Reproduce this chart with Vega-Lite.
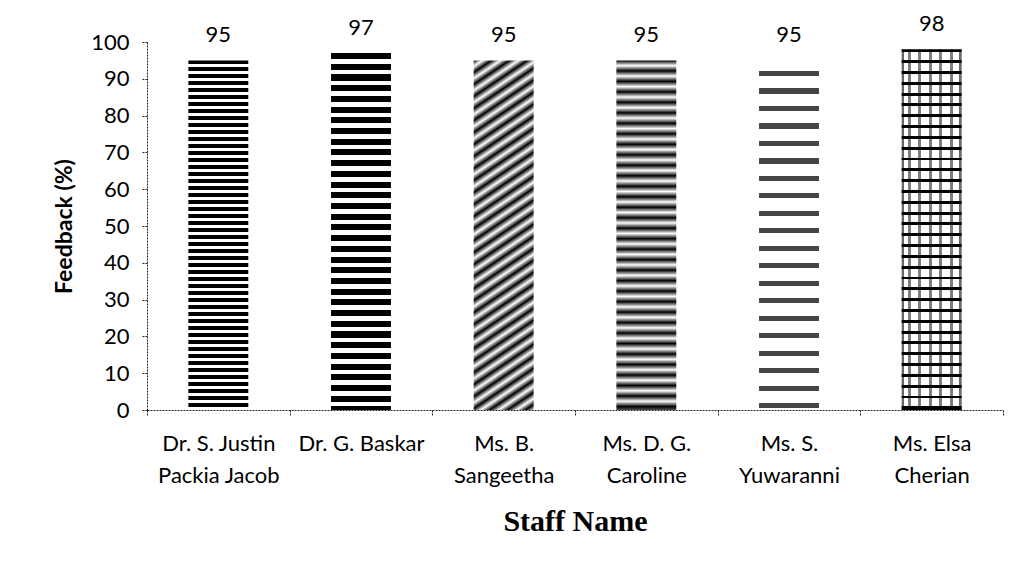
{
"$schema":"https://vega.github.io/schema/vega-lite/v6.json",
"width":856,"height":368,
"autosize":{"type":"none"},
"padding":{"left":147,"top":42,"right":21,"bottom":164},
"config":{"view":{"stroke":null},"font":"Lato"},
"data":{"values":[
{"staff":"Dr. S. Justin\nPackia Jacob","feedback":95},
{"staff":"Dr. G. Baskar","feedback":97},
{"staff":"Ms. B.\nSangeetha","feedback":95},
{"staff":"Ms. D. G.\nCaroline","feedback":95},
{"staff":"Ms. S.\nYuwaranni","feedback":95},
{"staff":"Ms. Elsa\nCherian","feedback":98}
]},
"encoding":{
"x":{"field":"staff","type":"nominal","sort":null,
"scale":{"domain":["Dr. S. Justin\nPackia Jacob","Dr. G. Baskar","Ms. B.\nSangeetha","Ms. D. G.\nCaroline","Ms. S.\nYuwaranni","Ms. Elsa\nCherian"],"paddingInner":0,"paddingOuter":0},
"axis":{"title":"Staff Name","titleFont":"Liberation Serif","titleFontSize":30,"titleFontWeight":"bold","titleColor":"#000","titlePadding":20,
"labelAngle":0,"labelFont":"Lato","labelFontSize":22,"labelColor":"#000","labelExpr":"split(datum.label,'\\n')","labelLineHeight":32,"labelPadding":17,"labelLimit":300,
"tickBand":"extent","domainDash":[2,1],"domainColor":"#222","tickColor":"#222","tickDash":[2,1],"tickSize":6}},
"y":{"field":"feedback","type":"quantitative","scale":{"domain":[0,100]},
"axis":{"title":"Feedback (%)","titleFont":"Lato","titleFontSize":23,"titleFontWeight":"bold","titleColor":"#000","titlePadding":14,
"values":[0,10,20,30,40,50,60,70,80,90,100],"labelFont":"Lato","labelFontSize":22,"labelColor":"#000","labelPadding":12,"grid":false,
"domainDash":[2,1],"domainColor":"#222","tickColor":"#222","tickDash":[2,1],"tickSize":6}}
},
"layer":[
{"transform":[{"filter":{"field":"staff","equal":"Dr. S. Justin\nPackia Jacob"}}],
"mark":{"type":"bar","width":{"band":0.42},"fill":{"gradient":"linear","x1":0,"y1":0,"x2":0,"y2":1,"stops":[
{"offset":0,"color":"#000"},{"offset":0.01,"color":"#000"},{"offset":0.01,"color":"#fff"},{"offset":0.02,"color":"#fff"},
{"offset":0.02,"color":"#000"},{"offset":0.03,"color":"#000"},{"offset":0.03,"color":"#fff"},{"offset":0.04,"color":"#fff"},
{"offset":0.04,"color":"#000"},{"offset":0.05,"color":"#000"},{"offset":0.05,"color":"#fff"},{"offset":0.06,"color":"#fff"},
{"offset":0.06,"color":"#000"},{"offset":0.07,"color":"#000"},{"offset":0.07,"color":"#fff"},{"offset":0.08,"color":"#fff"},
{"offset":0.08,"color":"#000"},{"offset":0.09,"color":"#000"},{"offset":0.09,"color":"#fff"},{"offset":0.1,"color":"#fff"},
{"offset":0.1,"color":"#000"},{"offset":0.11,"color":"#000"},{"offset":0.11,"color":"#fff"},{"offset":0.12,"color":"#fff"},
{"offset":0.12,"color":"#000"},{"offset":0.13,"color":"#000"},{"offset":0.13,"color":"#fff"},{"offset":0.14,"color":"#fff"},
{"offset":0.14,"color":"#000"},{"offset":0.15,"color":"#000"},{"offset":0.15,"color":"#fff"},{"offset":0.16,"color":"#fff"},
{"offset":0.16,"color":"#000"},{"offset":0.17,"color":"#000"},{"offset":0.17,"color":"#fff"},{"offset":0.18,"color":"#fff"},
{"offset":0.18,"color":"#000"},{"offset":0.19,"color":"#000"},{"offset":0.19,"color":"#fff"},{"offset":0.2,"color":"#fff"},
{"offset":0.2,"color":"#000"},{"offset":0.21,"color":"#000"},{"offset":0.21,"color":"#fff"},{"offset":0.22,"color":"#fff"},
{"offset":0.22,"color":"#000"},{"offset":0.23,"color":"#000"},{"offset":0.23,"color":"#fff"},{"offset":0.24,"color":"#fff"},
{"offset":0.24,"color":"#000"},{"offset":0.25,"color":"#000"},{"offset":0.25,"color":"#fff"},{"offset":0.26,"color":"#fff"},
{"offset":0.26,"color":"#000"},{"offset":0.27,"color":"#000"},{"offset":0.27,"color":"#fff"},{"offset":0.28,"color":"#fff"},
{"offset":0.28,"color":"#000"},{"offset":0.29,"color":"#000"},{"offset":0.29,"color":"#fff"},{"offset":0.3,"color":"#fff"},
{"offset":0.3,"color":"#000"},{"offset":0.31,"color":"#000"},{"offset":0.31,"color":"#fff"},{"offset":0.32,"color":"#fff"},
{"offset":0.32,"color":"#000"},{"offset":0.33,"color":"#000"},{"offset":0.33,"color":"#fff"},{"offset":0.34,"color":"#fff"},
{"offset":0.34,"color":"#000"},{"offset":0.35,"color":"#000"},{"offset":0.35,"color":"#fff"},{"offset":0.36,"color":"#fff"},
{"offset":0.36,"color":"#000"},{"offset":0.37,"color":"#000"},{"offset":0.37,"color":"#fff"},{"offset":0.38,"color":"#fff"},
{"offset":0.38,"color":"#000"},{"offset":0.39,"color":"#000"},{"offset":0.39,"color":"#fff"},{"offset":0.4,"color":"#fff"},
{"offset":0.4,"color":"#000"},{"offset":0.41,"color":"#000"},{"offset":0.41,"color":"#fff"},{"offset":0.42,"color":"#fff"},
{"offset":0.42,"color":"#000"},{"offset":0.43,"color":"#000"},{"offset":0.43,"color":"#fff"},{"offset":0.44,"color":"#fff"},
{"offset":0.44,"color":"#000"},{"offset":0.45,"color":"#000"},{"offset":0.45,"color":"#fff"},{"offset":0.46,"color":"#fff"},
{"offset":0.46,"color":"#000"},{"offset":0.47,"color":"#000"},{"offset":0.47,"color":"#fff"},{"offset":0.48,"color":"#fff"},
{"offset":0.48,"color":"#000"},{"offset":0.49,"color":"#000"},{"offset":0.49,"color":"#fff"},{"offset":0.5,"color":"#fff"},
{"offset":0.5,"color":"#000"},{"offset":0.51,"color":"#000"},{"offset":0.51,"color":"#fff"},{"offset":0.52,"color":"#fff"},
{"offset":0.52,"color":"#000"},{"offset":0.53,"color":"#000"},{"offset":0.53,"color":"#fff"},{"offset":0.54,"color":"#fff"},
{"offset":0.54,"color":"#000"},{"offset":0.55,"color":"#000"},{"offset":0.55,"color":"#fff"},{"offset":0.56,"color":"#fff"},
{"offset":0.56,"color":"#000"},{"offset":0.57,"color":"#000"},{"offset":0.57,"color":"#fff"},{"offset":0.58,"color":"#fff"},
{"offset":0.58,"color":"#000"},{"offset":0.59,"color":"#000"},{"offset":0.59,"color":"#fff"},{"offset":0.6,"color":"#fff"},
{"offset":0.6,"color":"#000"},{"offset":0.61,"color":"#000"},{"offset":0.61,"color":"#fff"},{"offset":0.62,"color":"#fff"},
{"offset":0.62,"color":"#000"},{"offset":0.63,"color":"#000"},{"offset":0.63,"color":"#fff"},{"offset":0.64,"color":"#fff"},
{"offset":0.64,"color":"#000"},{"offset":0.65,"color":"#000"},{"offset":0.65,"color":"#fff"},{"offset":0.66,"color":"#fff"},
{"offset":0.66,"color":"#000"},{"offset":0.67,"color":"#000"},{"offset":0.67,"color":"#fff"},{"offset":0.68,"color":"#fff"},
{"offset":0.68,"color":"#000"},{"offset":0.69,"color":"#000"},{"offset":0.69,"color":"#fff"},{"offset":0.7,"color":"#fff"},
{"offset":0.7,"color":"#000"},{"offset":0.71,"color":"#000"},{"offset":0.71,"color":"#fff"},{"offset":0.72,"color":"#fff"},
{"offset":0.72,"color":"#000"},{"offset":0.73,"color":"#000"},{"offset":0.73,"color":"#fff"},{"offset":0.74,"color":"#fff"},
{"offset":0.74,"color":"#000"},{"offset":0.75,"color":"#000"},{"offset":0.75,"color":"#fff"},{"offset":0.76,"color":"#fff"},
{"offset":0.76,"color":"#000"},{"offset":0.77,"color":"#000"},{"offset":0.77,"color":"#fff"},{"offset":0.78,"color":"#fff"},
{"offset":0.78,"color":"#000"},{"offset":0.79,"color":"#000"},{"offset":0.79,"color":"#fff"},{"offset":0.8,"color":"#fff"},
{"offset":0.8,"color":"#000"},{"offset":0.81,"color":"#000"},{"offset":0.81,"color":"#fff"},{"offset":0.82,"color":"#fff"},
{"offset":0.82,"color":"#000"},{"offset":0.83,"color":"#000"},{"offset":0.83,"color":"#fff"},{"offset":0.84,"color":"#fff"},
{"offset":0.84,"color":"#000"},{"offset":0.85,"color":"#000"},{"offset":0.85,"color":"#fff"},{"offset":0.86,"color":"#fff"},
{"offset":0.86,"color":"#000"},{"offset":0.87,"color":"#000"},{"offset":0.87,"color":"#fff"},{"offset":0.88,"color":"#fff"},
{"offset":0.88,"color":"#000"},{"offset":0.89,"color":"#000"},{"offset":0.89,"color":"#fff"},{"offset":0.9,"color":"#fff"},
{"offset":0.9,"color":"#000"},{"offset":0.91,"color":"#000"},{"offset":0.91,"color":"#fff"},{"offset":0.92,"color":"#fff"},
{"offset":0.92,"color":"#000"},{"offset":0.93,"color":"#000"},{"offset":0.93,"color":"#fff"},{"offset":0.94,"color":"#fff"},
{"offset":0.94,"color":"#000"},{"offset":0.95,"color":"#000"},{"offset":0.95,"color":"#fff"},{"offset":0.96,"color":"#fff"},
{"offset":0.96,"color":"#000"},{"offset":0.97,"color":"#000"},{"offset":0.97,"color":"#fff"},{"offset":0.98,"color":"#fff"},
{"offset":0.98,"color":"#000"},{"offset":0.99,"color":"#000"},{"offset":0.99,"color":"#fff"},{"offset":1,"color":"#fff"}
]}}},
{"transform":[{"filter":{"field":"staff","equal":"Dr. G. Baskar"}}],
"mark":{"type":"bar","width":{"band":0.42},"fill":{"gradient":"linear","x1":0,"y1":0,"x2":0,"y2":1,"stops":[
{"offset":0,"color":"#000"},{"offset":0.017,"color":"#000"},{"offset":0.017,"color":"#fff"},{"offset":0.03,"color":"#fff"},
{"offset":0.03,"color":"#000"},{"offset":0.047,"color":"#000"},{"offset":0.047,"color":"#fff"},{"offset":0.06,"color":"#fff"},
{"offset":0.06,"color":"#000"},{"offset":0.077,"color":"#000"},{"offset":0.077,"color":"#fff"},{"offset":0.09,"color":"#fff"},
{"offset":0.09,"color":"#000"},{"offset":0.107,"color":"#000"},{"offset":0.107,"color":"#fff"},{"offset":0.12,"color":"#fff"},
{"offset":0.12,"color":"#000"},{"offset":0.137,"color":"#000"},{"offset":0.137,"color":"#fff"},{"offset":0.15,"color":"#fff"},
{"offset":0.15,"color":"#000"},{"offset":0.167,"color":"#000"},{"offset":0.167,"color":"#fff"},{"offset":0.18,"color":"#fff"},
{"offset":0.18,"color":"#000"},{"offset":0.197,"color":"#000"},{"offset":0.197,"color":"#fff"},{"offset":0.21,"color":"#fff"},
{"offset":0.21,"color":"#000"},{"offset":0.227,"color":"#000"},{"offset":0.227,"color":"#fff"},{"offset":0.24,"color":"#fff"},
{"offset":0.24,"color":"#000"},{"offset":0.257,"color":"#000"},{"offset":0.257,"color":"#fff"},{"offset":0.27,"color":"#fff"},
{"offset":0.27,"color":"#000"},{"offset":0.287,"color":"#000"},{"offset":0.287,"color":"#fff"},{"offset":0.3,"color":"#fff"},
{"offset":0.3,"color":"#000"},{"offset":0.317,"color":"#000"},{"offset":0.317,"color":"#fff"},{"offset":0.33,"color":"#fff"},
{"offset":0.33,"color":"#000"},{"offset":0.347,"color":"#000"},{"offset":0.347,"color":"#fff"},{"offset":0.36,"color":"#fff"},
{"offset":0.36,"color":"#000"},{"offset":0.377,"color":"#000"},{"offset":0.377,"color":"#fff"},{"offset":0.39,"color":"#fff"},
{"offset":0.39,"color":"#000"},{"offset":0.407,"color":"#000"},{"offset":0.407,"color":"#fff"},{"offset":0.42,"color":"#fff"},
{"offset":0.42,"color":"#000"},{"offset":0.437,"color":"#000"},{"offset":0.437,"color":"#fff"},{"offset":0.45,"color":"#fff"},
{"offset":0.45,"color":"#000"},{"offset":0.467,"color":"#000"},{"offset":0.467,"color":"#fff"},{"offset":0.48,"color":"#fff"},
{"offset":0.48,"color":"#000"},{"offset":0.497,"color":"#000"},{"offset":0.497,"color":"#fff"},{"offset":0.51,"color":"#fff"},
{"offset":0.51,"color":"#000"},{"offset":0.527,"color":"#000"},{"offset":0.527,"color":"#fff"},{"offset":0.54,"color":"#fff"},
{"offset":0.54,"color":"#000"},{"offset":0.557,"color":"#000"},{"offset":0.557,"color":"#fff"},{"offset":0.57,"color":"#fff"},
{"offset":0.57,"color":"#000"},{"offset":0.587,"color":"#000"},{"offset":0.587,"color":"#fff"},{"offset":0.6,"color":"#fff"},
{"offset":0.6,"color":"#000"},{"offset":0.617,"color":"#000"},{"offset":0.617,"color":"#fff"},{"offset":0.63,"color":"#fff"},
{"offset":0.63,"color":"#000"},{"offset":0.647,"color":"#000"},{"offset":0.647,"color":"#fff"},{"offset":0.66,"color":"#fff"},
{"offset":0.66,"color":"#000"},{"offset":0.677,"color":"#000"},{"offset":0.677,"color":"#fff"},{"offset":0.69,"color":"#fff"},
{"offset":0.69,"color":"#000"},{"offset":0.707,"color":"#000"},{"offset":0.707,"color":"#fff"},{"offset":0.72,"color":"#fff"},
{"offset":0.72,"color":"#000"},{"offset":0.737,"color":"#000"},{"offset":0.737,"color":"#fff"},{"offset":0.75,"color":"#fff"},
{"offset":0.75,"color":"#000"},{"offset":0.767,"color":"#000"},{"offset":0.767,"color":"#fff"},{"offset":0.78,"color":"#fff"},
{"offset":0.78,"color":"#000"},{"offset":0.797,"color":"#000"},{"offset":0.797,"color":"#fff"},{"offset":0.81,"color":"#fff"},
{"offset":0.81,"color":"#000"},{"offset":0.827,"color":"#000"},{"offset":0.827,"color":"#fff"},{"offset":0.84,"color":"#fff"},
{"offset":0.84,"color":"#000"},{"offset":0.857,"color":"#000"},{"offset":0.857,"color":"#fff"},{"offset":0.87,"color":"#fff"},
{"offset":0.87,"color":"#000"},{"offset":0.887,"color":"#000"},{"offset":0.887,"color":"#fff"},{"offset":0.9,"color":"#fff"},
{"offset":0.9,"color":"#000"},{"offset":0.917,"color":"#000"},{"offset":0.917,"color":"#fff"},{"offset":0.93,"color":"#fff"},
{"offset":0.93,"color":"#000"},{"offset":0.947,"color":"#000"},{"offset":0.947,"color":"#fff"},{"offset":0.96,"color":"#fff"},
{"offset":0.96,"color":"#000"},{"offset":0.977,"color":"#000"},{"offset":0.977,"color":"#fff"},{"offset":0.99,"color":"#fff"},
{"offset":0.99,"color":"#000"},{"offset":1,"color":"#000"}
]}}},
{"transform":[{"filter":{"field":"staff","equal":"Ms. B.\nSangeetha"}}],
"mark":{"type":"bar","width":{"band":0.42},"fill":{"gradient":"linear","x1":0,"y1":0,"x2":0.13,"y2":1.13,"stops":[
{"offset":0,"color":"#000"},{"offset":0.015,"color":"#fff"},{"offset":0.03,"color":"#000"},{"offset":0.045,"color":"#fff"},
{"offset":0.06,"color":"#000"},{"offset":0.075,"color":"#fff"},{"offset":0.09,"color":"#000"},{"offset":0.105,"color":"#fff"},
{"offset":0.12,"color":"#000"},{"offset":0.135,"color":"#fff"},{"offset":0.15,"color":"#000"},{"offset":0.165,"color":"#fff"},
{"offset":0.18,"color":"#000"},{"offset":0.195,"color":"#fff"},{"offset":0.21,"color":"#000"},{"offset":0.225,"color":"#fff"},
{"offset":0.24,"color":"#000"},{"offset":0.255,"color":"#fff"},{"offset":0.27,"color":"#000"},{"offset":0.285,"color":"#fff"},
{"offset":0.3,"color":"#000"},{"offset":0.315,"color":"#fff"},{"offset":0.33,"color":"#000"},{"offset":0.345,"color":"#fff"},
{"offset":0.36,"color":"#000"},{"offset":0.375,"color":"#fff"},{"offset":0.39,"color":"#000"},{"offset":0.405,"color":"#fff"},
{"offset":0.42,"color":"#000"},{"offset":0.435,"color":"#fff"},{"offset":0.45,"color":"#000"},{"offset":0.465,"color":"#fff"},
{"offset":0.48,"color":"#000"},{"offset":0.495,"color":"#fff"},{"offset":0.51,"color":"#000"},{"offset":0.525,"color":"#fff"},
{"offset":0.54,"color":"#000"},{"offset":0.555,"color":"#fff"},{"offset":0.57,"color":"#000"},{"offset":0.585,"color":"#fff"},
{"offset":0.6,"color":"#000"},{"offset":0.615,"color":"#fff"},{"offset":0.63,"color":"#000"},{"offset":0.645,"color":"#fff"},
{"offset":0.66,"color":"#000"},{"offset":0.675,"color":"#fff"},{"offset":0.69,"color":"#000"},{"offset":0.705,"color":"#fff"},
{"offset":0.72,"color":"#000"},{"offset":0.735,"color":"#fff"},{"offset":0.75,"color":"#000"},{"offset":0.765,"color":"#fff"},
{"offset":0.78,"color":"#000"},{"offset":0.795,"color":"#fff"},{"offset":0.81,"color":"#000"},{"offset":0.825,"color":"#fff"},
{"offset":0.84,"color":"#000"},{"offset":0.855,"color":"#fff"},{"offset":0.87,"color":"#000"},{"offset":0.885,"color":"#fff"},
{"offset":0.9,"color":"#000"},{"offset":0.915,"color":"#fff"},{"offset":0.93,"color":"#000"},{"offset":0.945,"color":"#fff"},
{"offset":0.96,"color":"#000"},{"offset":0.975,"color":"#fff"},{"offset":0.99,"color":"#000"},{"offset":1,"color":"#fff"}
]}}},
{"transform":[{"filter":{"field":"staff","equal":"Ms. D. G.\nCaroline"}}],
"mark":{"type":"bar","width":{"band":0.42},"fill":{"gradient":"linear","x1":0,"y1":0,"x2":0,"y2":1,"stops":[
{"offset":0,"color":"#000"},{"offset":0.015,"color":"#fff"},{"offset":0.03,"color":"#000"},{"offset":0.045,"color":"#fff"},
{"offset":0.06,"color":"#000"},{"offset":0.075,"color":"#fff"},{"offset":0.09,"color":"#000"},{"offset":0.105,"color":"#fff"},
{"offset":0.12,"color":"#000"},{"offset":0.135,"color":"#fff"},{"offset":0.15,"color":"#000"},{"offset":0.165,"color":"#fff"},
{"offset":0.18,"color":"#000"},{"offset":0.195,"color":"#fff"},{"offset":0.21,"color":"#000"},{"offset":0.225,"color":"#fff"},
{"offset":0.24,"color":"#000"},{"offset":0.255,"color":"#fff"},{"offset":0.27,"color":"#000"},{"offset":0.285,"color":"#fff"},
{"offset":0.3,"color":"#000"},{"offset":0.315,"color":"#fff"},{"offset":0.33,"color":"#000"},{"offset":0.345,"color":"#fff"},
{"offset":0.36,"color":"#000"},{"offset":0.375,"color":"#fff"},{"offset":0.39,"color":"#000"},{"offset":0.405,"color":"#fff"},
{"offset":0.42,"color":"#000"},{"offset":0.435,"color":"#fff"},{"offset":0.45,"color":"#000"},{"offset":0.465,"color":"#fff"},
{"offset":0.48,"color":"#000"},{"offset":0.495,"color":"#fff"},{"offset":0.51,"color":"#000"},{"offset":0.525,"color":"#fff"},
{"offset":0.54,"color":"#000"},{"offset":0.555,"color":"#fff"},{"offset":0.57,"color":"#000"},{"offset":0.585,"color":"#fff"},
{"offset":0.6,"color":"#000"},{"offset":0.615,"color":"#fff"},{"offset":0.63,"color":"#000"},{"offset":0.645,"color":"#fff"},
{"offset":0.66,"color":"#000"},{"offset":0.675,"color":"#fff"},{"offset":0.69,"color":"#000"},{"offset":0.705,"color":"#fff"},
{"offset":0.72,"color":"#000"},{"offset":0.735,"color":"#fff"},{"offset":0.75,"color":"#000"},{"offset":0.765,"color":"#fff"},
{"offset":0.78,"color":"#000"},{"offset":0.795,"color":"#fff"},{"offset":0.81,"color":"#000"},{"offset":0.825,"color":"#fff"},
{"offset":0.84,"color":"#000"},{"offset":0.855,"color":"#fff"},{"offset":0.87,"color":"#000"},{"offset":0.885,"color":"#fff"},
{"offset":0.9,"color":"#000"},{"offset":0.915,"color":"#fff"},{"offset":0.93,"color":"#000"},{"offset":0.945,"color":"#fff"},
{"offset":0.96,"color":"#000"},{"offset":0.975,"color":"#fff"},{"offset":0.99,"color":"#000"},{"offset":1,"color":"#555"}
]}}},
{"transform":[{"filter":{"field":"staff","equal":"Ms. S.\nYuwaranni"}}],
"mark":{"type":"bar","width":{"band":0.42},"fill":{"gradient":"linear","x1":0,"y1":0,"x2":0,"y2":1,"stops":[
{"offset":0,"color":"#fff"},{"offset":0.03,"color":"#fff"},
{"offset":0.03,"color":"#444"},{"offset":0.045,"color":"#444"},{"offset":0.045,"color":"#fff"},{"offset":0.08,"color":"#fff"},
{"offset":0.08,"color":"#444"},{"offset":0.095,"color":"#444"},{"offset":0.095,"color":"#fff"},{"offset":0.13,"color":"#fff"},
{"offset":0.13,"color":"#444"},{"offset":0.145,"color":"#444"},{"offset":0.145,"color":"#fff"},{"offset":0.18,"color":"#fff"},
{"offset":0.18,"color":"#444"},{"offset":0.195,"color":"#444"},{"offset":0.195,"color":"#fff"},{"offset":0.23,"color":"#fff"},
{"offset":0.23,"color":"#444"},{"offset":0.245,"color":"#444"},{"offset":0.245,"color":"#fff"},{"offset":0.28,"color":"#fff"},
{"offset":0.28,"color":"#444"},{"offset":0.295,"color":"#444"},{"offset":0.295,"color":"#fff"},{"offset":0.33,"color":"#fff"},
{"offset":0.33,"color":"#444"},{"offset":0.345,"color":"#444"},{"offset":0.345,"color":"#fff"},{"offset":0.38,"color":"#fff"},
{"offset":0.38,"color":"#444"},{"offset":0.395,"color":"#444"},{"offset":0.395,"color":"#fff"},{"offset":0.43,"color":"#fff"},
{"offset":0.43,"color":"#444"},{"offset":0.445,"color":"#444"},{"offset":0.445,"color":"#fff"},{"offset":0.48,"color":"#fff"},
{"offset":0.48,"color":"#444"},{"offset":0.495,"color":"#444"},{"offset":0.495,"color":"#fff"},{"offset":0.53,"color":"#fff"},
{"offset":0.53,"color":"#444"},{"offset":0.545,"color":"#444"},{"offset":0.545,"color":"#fff"},{"offset":0.58,"color":"#fff"},
{"offset":0.58,"color":"#444"},{"offset":0.595,"color":"#444"},{"offset":0.595,"color":"#fff"},{"offset":0.63,"color":"#fff"},
{"offset":0.63,"color":"#444"},{"offset":0.645,"color":"#444"},{"offset":0.645,"color":"#fff"},{"offset":0.68,"color":"#fff"},
{"offset":0.68,"color":"#444"},{"offset":0.695,"color":"#444"},{"offset":0.695,"color":"#fff"},{"offset":0.73,"color":"#fff"},
{"offset":0.73,"color":"#444"},{"offset":0.745,"color":"#444"},{"offset":0.745,"color":"#fff"},{"offset":0.78,"color":"#fff"},
{"offset":0.78,"color":"#444"},{"offset":0.795,"color":"#444"},{"offset":0.795,"color":"#fff"},{"offset":0.83,"color":"#fff"},
{"offset":0.83,"color":"#444"},{"offset":0.845,"color":"#444"},{"offset":0.845,"color":"#fff"},{"offset":0.88,"color":"#fff"},
{"offset":0.88,"color":"#444"},{"offset":0.895,"color":"#444"},{"offset":0.895,"color":"#fff"},{"offset":0.93,"color":"#fff"},
{"offset":0.93,"color":"#444"},{"offset":0.945,"color":"#444"},{"offset":0.945,"color":"#fff"},{"offset":0.98,"color":"#fff"},
{"offset":0.98,"color":"#444"},{"offset":0.995,"color":"#444"},{"offset":0.995,"color":"#fff"},{"offset":1,"color":"#fff"}
]}}},
{"transform":[{"filter":{"field":"staff","equal":"Ms. Elsa\nCherian"}}],
"mark":{"type":"bar","width":{"band":0.42},"fill":{"gradient":"linear","x1":0,"y1":0,"x2":0,"y2":1,"stops":[
{"offset":0,"color":"#000"},{"offset":0.008,"color":"#000"},{"offset":0.008,"color":"#fff"},{"offset":0.03,"color":"#fff"},
{"offset":0.03,"color":"#000"},{"offset":0.038,"color":"#000"},{"offset":0.038,"color":"#fff"},{"offset":0.06,"color":"#fff"},
{"offset":0.06,"color":"#000"},{"offset":0.068,"color":"#000"},{"offset":0.068,"color":"#fff"},{"offset":0.09,"color":"#fff"},
{"offset":0.09,"color":"#000"},{"offset":0.098,"color":"#000"},{"offset":0.098,"color":"#fff"},{"offset":0.12,"color":"#fff"},
{"offset":0.12,"color":"#000"},{"offset":0.128,"color":"#000"},{"offset":0.128,"color":"#fff"},{"offset":0.15,"color":"#fff"},
{"offset":0.15,"color":"#000"},{"offset":0.158,"color":"#000"},{"offset":0.158,"color":"#fff"},{"offset":0.18,"color":"#fff"},
{"offset":0.18,"color":"#000"},{"offset":0.188,"color":"#000"},{"offset":0.188,"color":"#fff"},{"offset":0.21,"color":"#fff"},
{"offset":0.21,"color":"#000"},{"offset":0.218,"color":"#000"},{"offset":0.218,"color":"#fff"},{"offset":0.24,"color":"#fff"},
{"offset":0.24,"color":"#000"},{"offset":0.248,"color":"#000"},{"offset":0.248,"color":"#fff"},{"offset":0.27,"color":"#fff"},
{"offset":0.27,"color":"#000"},{"offset":0.278,"color":"#000"},{"offset":0.278,"color":"#fff"},{"offset":0.3,"color":"#fff"},
{"offset":0.3,"color":"#000"},{"offset":0.308,"color":"#000"},{"offset":0.308,"color":"#fff"},{"offset":0.33,"color":"#fff"},
{"offset":0.33,"color":"#000"},{"offset":0.338,"color":"#000"},{"offset":0.338,"color":"#fff"},{"offset":0.36,"color":"#fff"},
{"offset":0.36,"color":"#000"},{"offset":0.368,"color":"#000"},{"offset":0.368,"color":"#fff"},{"offset":0.39,"color":"#fff"},
{"offset":0.39,"color":"#000"},{"offset":0.398,"color":"#000"},{"offset":0.398,"color":"#fff"},{"offset":0.42,"color":"#fff"},
{"offset":0.42,"color":"#000"},{"offset":0.428,"color":"#000"},{"offset":0.428,"color":"#fff"},{"offset":0.45,"color":"#fff"},
{"offset":0.45,"color":"#000"},{"offset":0.458,"color":"#000"},{"offset":0.458,"color":"#fff"},{"offset":0.48,"color":"#fff"},
{"offset":0.48,"color":"#000"},{"offset":0.488,"color":"#000"},{"offset":0.488,"color":"#fff"},{"offset":0.51,"color":"#fff"},
{"offset":0.51,"color":"#000"},{"offset":0.518,"color":"#000"},{"offset":0.518,"color":"#fff"},{"offset":0.54,"color":"#fff"},
{"offset":0.54,"color":"#000"},{"offset":0.548,"color":"#000"},{"offset":0.548,"color":"#fff"},{"offset":0.57,"color":"#fff"},
{"offset":0.57,"color":"#000"},{"offset":0.578,"color":"#000"},{"offset":0.578,"color":"#fff"},{"offset":0.6,"color":"#fff"},
{"offset":0.6,"color":"#000"},{"offset":0.608,"color":"#000"},{"offset":0.608,"color":"#fff"},{"offset":0.63,"color":"#fff"},
{"offset":0.63,"color":"#000"},{"offset":0.638,"color":"#000"},{"offset":0.638,"color":"#fff"},{"offset":0.66,"color":"#fff"},
{"offset":0.66,"color":"#000"},{"offset":0.668,"color":"#000"},{"offset":0.668,"color":"#fff"},{"offset":0.69,"color":"#fff"},
{"offset":0.69,"color":"#000"},{"offset":0.698,"color":"#000"},{"offset":0.698,"color":"#fff"},{"offset":0.72,"color":"#fff"},
{"offset":0.72,"color":"#000"},{"offset":0.728,"color":"#000"},{"offset":0.728,"color":"#fff"},{"offset":0.75,"color":"#fff"},
{"offset":0.75,"color":"#000"},{"offset":0.758,"color":"#000"},{"offset":0.758,"color":"#fff"},{"offset":0.78,"color":"#fff"},
{"offset":0.78,"color":"#000"},{"offset":0.788,"color":"#000"},{"offset":0.788,"color":"#fff"},{"offset":0.81,"color":"#fff"},
{"offset":0.81,"color":"#000"},{"offset":0.818,"color":"#000"},{"offset":0.818,"color":"#fff"},{"offset":0.84,"color":"#fff"},
{"offset":0.84,"color":"#000"},{"offset":0.848,"color":"#000"},{"offset":0.848,"color":"#fff"},{"offset":0.87,"color":"#fff"},
{"offset":0.87,"color":"#000"},{"offset":0.878,"color":"#000"},{"offset":0.878,"color":"#fff"},{"offset":0.9,"color":"#fff"},
{"offset":0.9,"color":"#000"},{"offset":0.908,"color":"#000"},{"offset":0.908,"color":"#fff"},{"offset":0.93,"color":"#fff"},
{"offset":0.93,"color":"#000"},{"offset":0.938,"color":"#000"},{"offset":0.938,"color":"#fff"},{"offset":0.96,"color":"#fff"},
{"offset":0.96,"color":"#000"},{"offset":0.968,"color":"#000"},{"offset":0.968,"color":"#fff"},{"offset":0.99,"color":"#fff"},
{"offset":0.99,"color":"#000"},{"offset":1,"color":"#000"}
]}}},
{"transform":[{"filter":{"field":"staff","equal":"Ms. Elsa\nCherian"}}],
"mark":{"type":"bar","width":{"band":0.42},"fill":{"gradient":"linear","x1":0,"y1":0,"x2":1,"y2":0,"stops":[
{"offset":0,"color":"rgba(0,0,0,0.6)"},{"offset":0.04,"color":"rgba(0,0,0,0.6)"},{"offset":0.04,"color":"rgba(0,0,0,0)"},
{"offset":0.1,"color":"rgba(0,0,0,0)"},{"offset":0.1,"color":"rgba(0,0,0,0.5)"},{"offset":0.15,"color":"rgba(0,0,0,0.5)"},{"offset":0.15,"color":"rgba(0,0,0,0)"},
{"offset":0.28,"color":"rgba(0,0,0,0)"},{"offset":0.28,"color":"rgba(0,0,0,0.5)"},{"offset":0.33,"color":"rgba(0,0,0,0.5)"},{"offset":0.33,"color":"rgba(0,0,0,0)"},
{"offset":0.45,"color":"rgba(0,0,0,0)"},{"offset":0.45,"color":"rgba(0,0,0,0.5)"},{"offset":0.5,"color":"rgba(0,0,0,0.5)"},{"offset":0.5,"color":"rgba(0,0,0,0)"},
{"offset":0.63,"color":"rgba(0,0,0,0)"},{"offset":0.63,"color":"rgba(0,0,0,0.5)"},{"offset":0.68,"color":"rgba(0,0,0,0.5)"},{"offset":0.68,"color":"rgba(0,0,0,0)"},
{"offset":0.8,"color":"rgba(0,0,0,0)"},{"offset":0.8,"color":"rgba(0,0,0,0.5)"},{"offset":0.85,"color":"rgba(0,0,0,0.5)"},{"offset":0.85,"color":"rgba(0,0,0,0)"},
{"offset":0.96,"color":"rgba(0,0,0,0)"},{"offset":0.96,"color":"rgba(0,0,0,0.6)"},{"offset":1,"color":"rgba(0,0,0,0.6)"}
]}}},
{"mark":{"type":"text","font":"Lato","fontSize":22,"baseline":"alphabetic","dy":-18,"color":"#000"},
"encoding":{"text":{"field":"feedback","type":"quantitative"}}}
]
}
